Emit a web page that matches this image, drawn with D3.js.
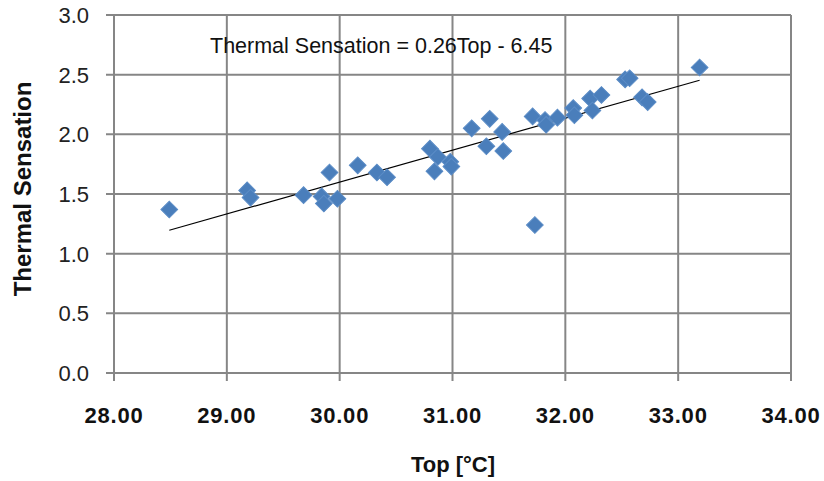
<!DOCTYPE html>
<html>
<head>
<meta charset="utf-8">
<script src="https://cdn.jsdelivr.net/npm/d3@7"></script>
<style>
  body { margin: 0; background: #fff; }
  text { font-family: "Liberation Sans", Arial, sans-serif; }
</style>
</head>
<body>
<div id="chart"></div>
<script>
const w = 824,
    h = 481;

// operative temperature (°C) and mean thermal sensation vote
const topValues = [28.49, 29.18, 29.21, 29.68, 29.84, 29.86, 29.98, 29.91, 30.16, 30.33,
    30.42, 30.80, 30.87, 30.84, 30.98, 30.99, 31.17, 31.33, 31.30, 31.44,
    31.45, 31.73, 31.71, 31.82, 31.83, 31.93, 32.07, 32.08, 32.22, 32.24,
    32.32, 32.53, 32.57, 32.68, 32.73, 33.19];
const sensationValues = [1.37, 1.53, 1.47, 1.49, 1.48, 1.42, 1.46, 1.68, 1.74, 1.68,
    1.64, 1.88, 1.81, 1.69, 1.77, 1.73, 2.05, 2.13, 1.90, 2.02,
    1.86, 1.24, 2.15, 2.12, 2.08, 2.14, 2.22, 2.16, 2.30, 2.20,
    2.33, 2.46, 2.47, 2.31, 2.27, 2.56];
const xTicks = [28, 29, 30, 31, 32, 33, 34];
const yTicks = [0, 0.5, 1, 1.5, 2, 2.5, 3];
const equationLabel = "Thermal Sensation = 0.26Top - 6.45";

const data = topValues.map(function (t, i) { return { top: t, ts: sensationValues[i] }; });

const margin = { top: 15, right: 33, bottom: 108, left: 114 };

const svg = d3.select("#chart")
    .append("svg")
    .attr("width", w)
    .attr("height", h);

const xScale = d3.scaleLinear()
    .domain([28, 34])
    .range([margin.left, w - margin.right]);

const yScale = d3.scaleLinear()
    .domain([0, 3])
    .range([h - margin.bottom, margin.top]);

const gridColor = "#868686";

// grid lines
svg.append("g")
    .selectAll("line")
    .data(xTicks)
    .enter()
    .append("line")
    .attr("x1", function (d) { return xScale(d); })
    .attr("x2", function (d) { return xScale(d); })
    .attr("y1", yScale(3))
    .attr("y2", yScale(0) + 8)
    .attr("stroke", gridColor)
    .attr("stroke-width", 2);

svg.append("g")
    .selectAll("line")
    .data(yTicks)
    .enter()
    .append("line")
    .attr("x1", xScale(28) - 8)
    .attr("x2", xScale(34))
    .attr("y1", function (d) { return yScale(d); })
    .attr("y2", function (d) { return yScale(d); })
    .attr("stroke", gridColor)
    .attr("stroke-width", 2);

// tick labels
svg.append("g")
    .selectAll("text")
    .data(yTicks)
    .enter()
    .append("text")
    .attr("x", 89)
    .attr("y", function (d) { return yScale(d) + 8; })
    .attr("text-anchor", "end")
    .attr("font-size", 22)
    .attr("fill", "#222")
    .text(function (d) { return d3.format(".1f")(d); });

svg.append("g")
    .selectAll("text")
    .data(xTicks)
    .enter()
    .append("text")
    .attr("x", function (d) { return xScale(d); })
    .attr("y", 423)
    .attr("text-anchor", "middle")
    .attr("font-size", 22)
    .attr("font-weight", "bold")
    .attr("letter-spacing", 0.8)
    .attr("fill", "#111")
    .text(function (d) { return d3.format(".2f")(d); });

// axis titles
svg.append("text")
    .attr("x", 453)
    .attr("y", 472)
    .attr("text-anchor", "middle")
    .attr("font-size", 22)
    .attr("font-weight", "bold")
    .attr("fill", "#111")
    .text("Top [°C]");

svg.append("text")
    .attr("transform", "translate(31," + 189 + ") rotate(-90)")
    .attr("text-anchor", "middle")
    .attr("font-size", 24)
    .attr("font-weight", "bold")
    .attr("fill", "#111")
    .text("Thermal Sensation");

// least squares trend line from the data
const mx = d3.mean(data, function (d) { return d.top; }),
    my = d3.mean(data, function (d) { return d.ts; });
const slope = d3.sum(data, function (d) { return (d.top - mx) * (d.ts - my); }) /
    d3.sum(data, function (d) { return (d.top - mx) * (d.top - mx); });
const intercept = my - slope * mx;
const xExtent = d3.extent(data, function (d) { return d.top; });

svg.append("line")
    .attr("x1", xScale(xExtent[0]))
    .attr("x2", xScale(xExtent[1]))
    .attr("y1", yScale(slope * xExtent[0] + intercept))
    .attr("y2", yScale(slope * xExtent[1] + intercept))
    .attr("stroke", "#000")
    .attr("stroke-width", 1.2);

// markers
const diamond = d3.symbol().type(d3.symbolSquare).size(140);

svg.append("g")
    .selectAll("path")
    .data(data)
    .enter()
    .append("path")
    .attr("d", diamond)
    .attr("transform", function (d) {
        return "translate(" + xScale(d.top) + "," + yScale(d.ts) + ") rotate(45)";
    })
    .attr("fill", "#4a7ebb")
    .attr("stroke", "#5b8cc6")
    .attr("stroke-width", 1);

// equation label
svg.append("text")
    .attr("x", 210)
    .attr("y", 53)
    .attr("font-size", 21.5)
    .attr("fill", "#111")
    .text(equationLabel);
</script>
</body>
</html>
